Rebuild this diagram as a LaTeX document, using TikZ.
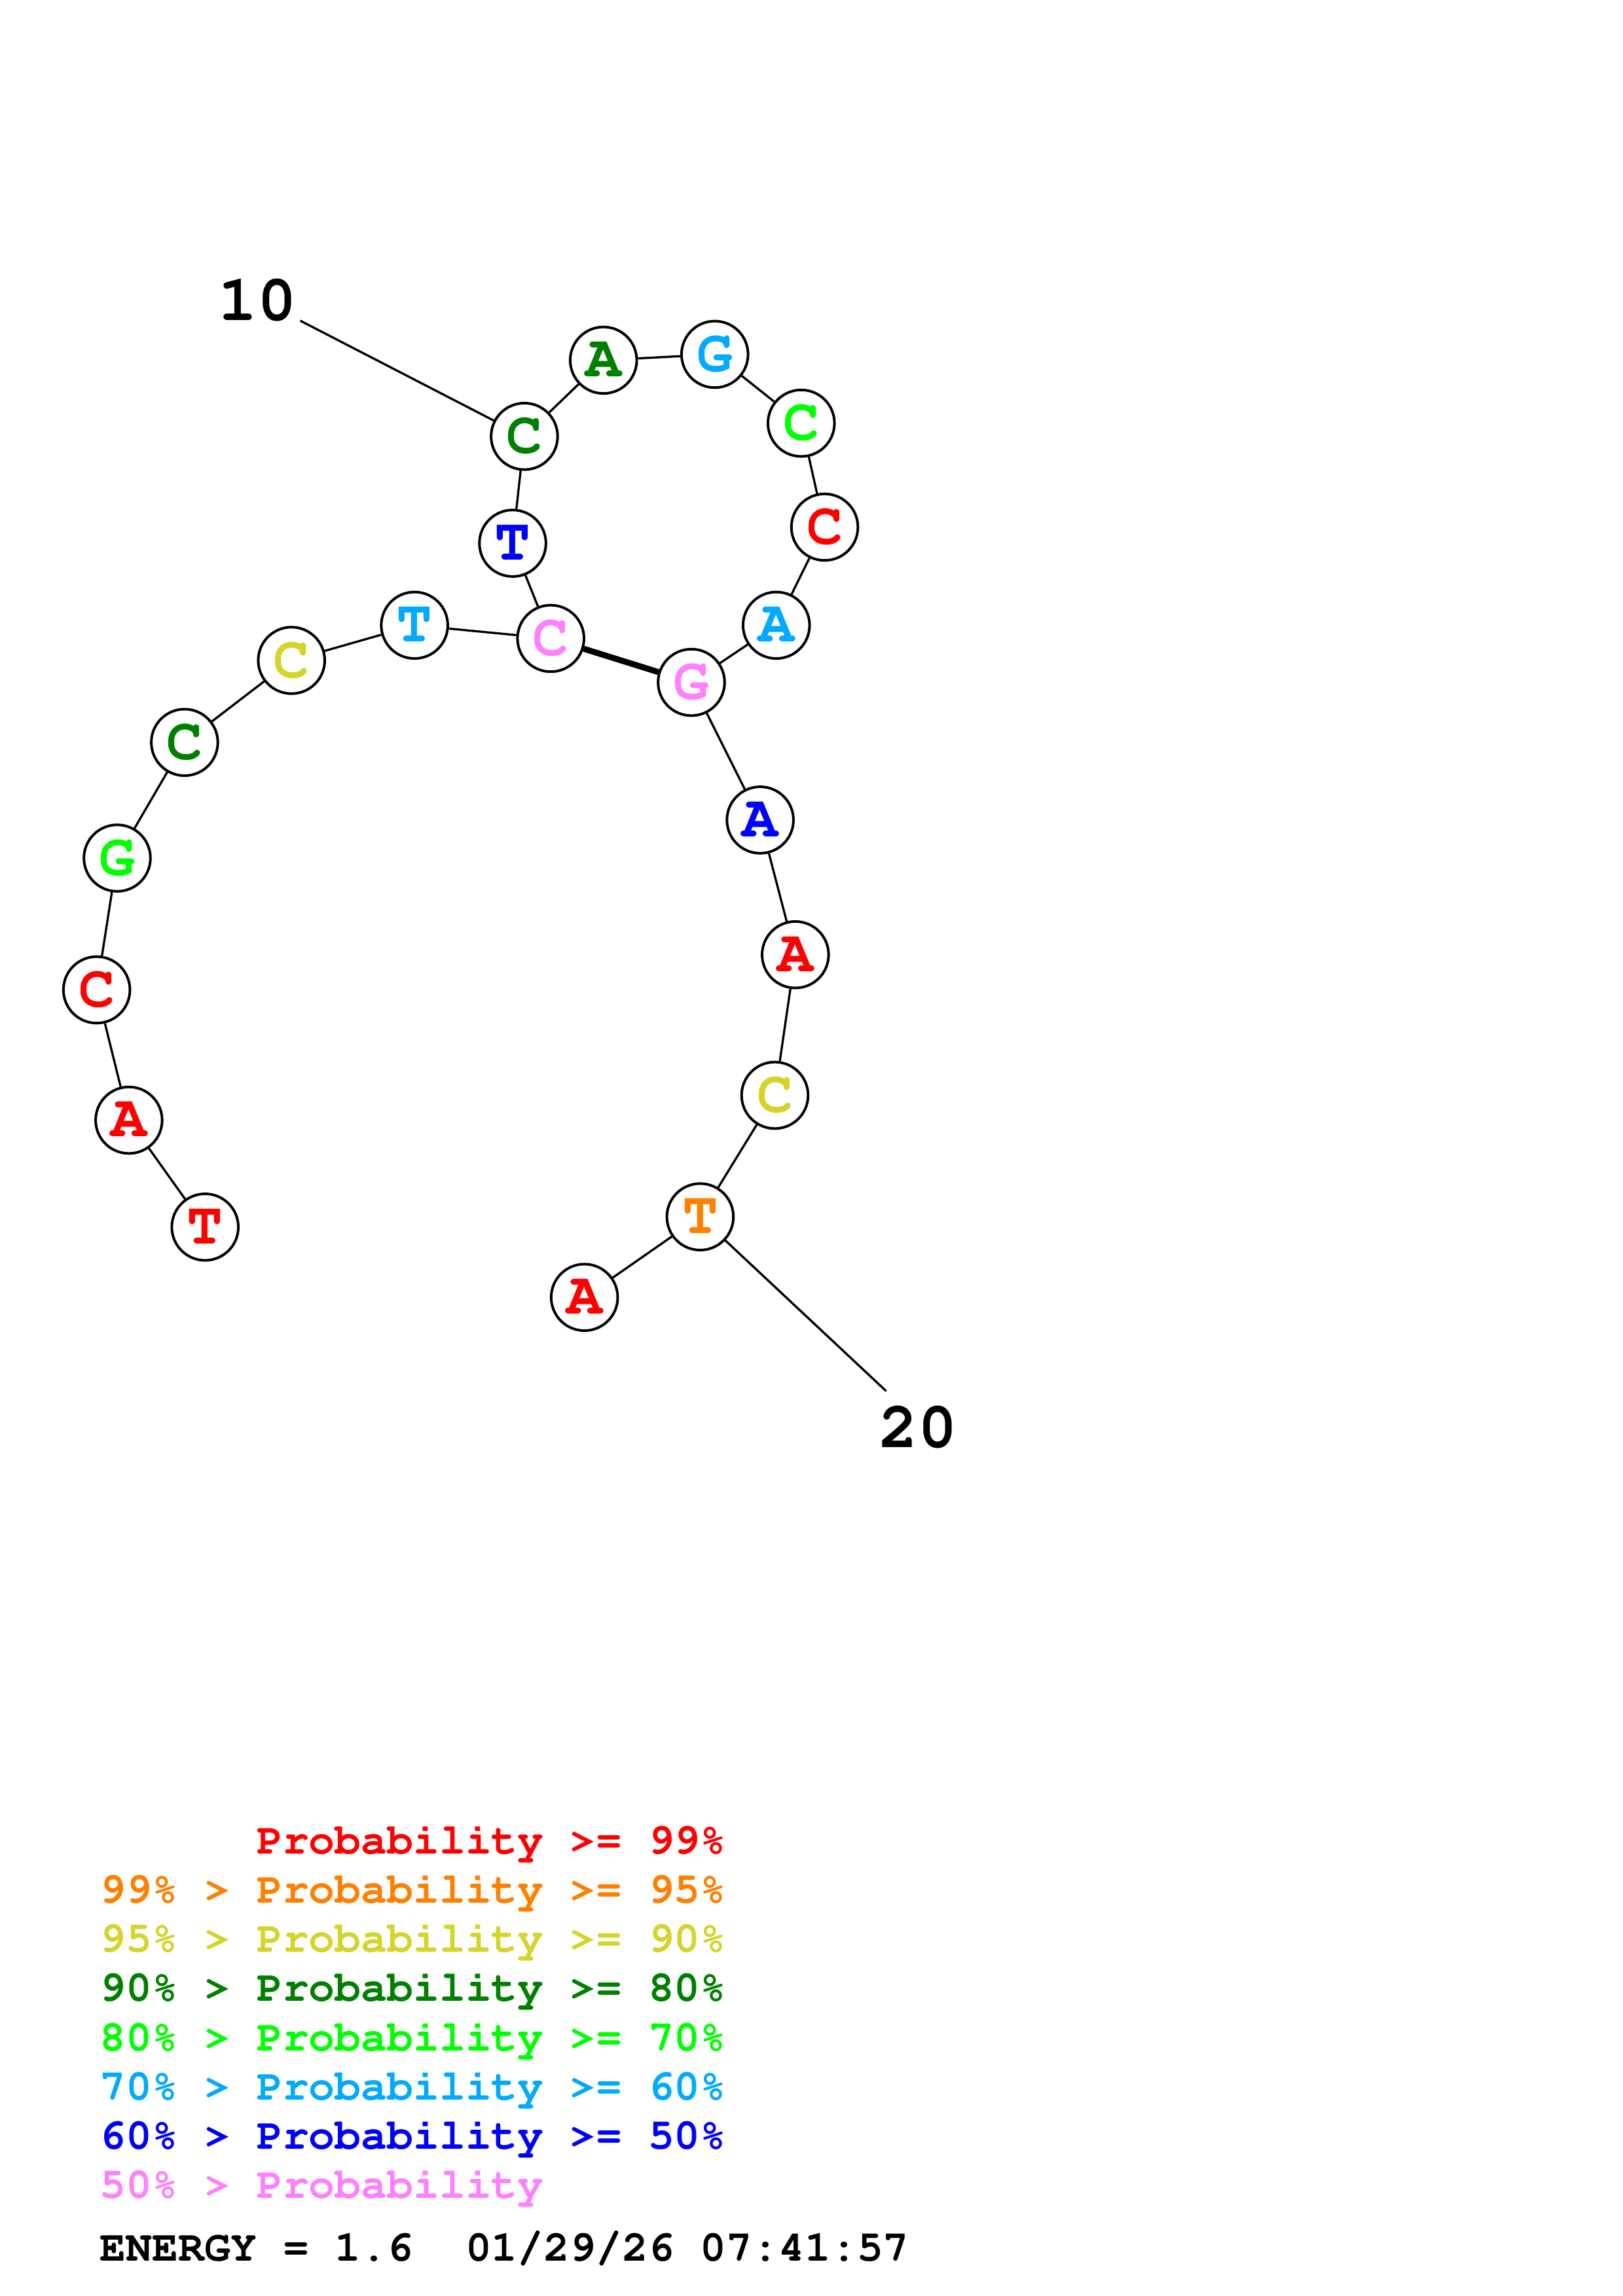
\documentclass[tikz,border=0pt]{standalone}
\usepackage[T1]{fontenc}
\usepackage{courier}
\renewcommand{\familydefault}{\ttdefault}
\usetikzlibrary{positioning}
\definecolor{pred}{RGB}{255,0,0}
\definecolor{porange}{RGB}{255,128,0}
\definecolor{pyellow}{RGB}{212,212,42}
\definecolor{pdkgreen}{RGB}{0,128,0}
\definecolor{plime}{RGB}{0,255,0}
\definecolor{psky}{RGB}{0,170,255}
\definecolor{pblue}{RGB}{0,0,255}
\definecolor{ppink}{RGB}{255,128,255}
\tikzstyle{base} = [circle, draw=black, fill=white, line width=0.95pt, minimum size=0.86cm, inner sep=0pt, font=\fontsize{22}{22}\selectfont\bfseries]
\tikzstyle{bond} = [draw=black, line width=0.8pt]
\tikzstyle{pair} = [draw=black, line width=2.2pt]
\tikzstyle{tick} = [font=\fontsize{24}{24}\selectfont\bfseries, inner sep=0pt]
\tikzstyle{legend} = [anchor=base west, inner sep=0pt, font=\fontsize{16}{18}\selectfont\bfseries]

\begin{document}
\begin{tikzpicture}[x=0.018941cm, y=-0.018941cm]
  \useasboundingbox (0,0) rectangle (1108,1568);
  % bases, 5' to 3'
  \node (n1)  [base, text=pred]     at (140, 838) {T};
  \node (n2)  [base, text=pred]     at (88, 765)  {A};
  \node (n3)  [base, text=pred]     at (66, 676)  {C};
  \node (n4)  [base, text=plime]    at (80, 586)  {G};
  \node (n5)  [base, text=pdkgreen] at (126, 507) {C};
  \node (n6)  [base, text=pyellow]  at (199, 451) {C};
  \node (n7)  [base, text=psky]     at (283, 427) {T};
  \node (n8)  [base, text=ppink]    at (376, 436) {C};
  \node (n9)  [base, text=pblue]    at (350, 371) {T};
  \node (n10) [base, text=pdkgreen] at (358, 298) {C};
  \node (n11) [base, text=pdkgreen] at (412, 246) {A};
  \node (n12) [base, text=psky]     at (488, 242) {G};
  \node (n13) [base, text=plime]    at (547, 289) {C};
  \node (n14) [base, text=pred]     at (563, 360) {C};
  \node (n15) [base, text=psky]     at (530, 427) {A};
  \node (n16) [base, text=ppink]    at (472, 466) {G};
  \node (n17) [base, text=pblue]    at (519, 560) {A};
  \node (n18) [base, text=pred]     at (543, 652) {A};
  \node (n19) [base, text=pyellow]  at (529, 748) {C};
  \node (n20) [base, text=porange]  at (478, 831) {T};
  \node (n21) [base, text=pred]     at (399, 886) {A};

  % backbone
  \path [bond] (n1) edge (n2) (n2) edge (n3) (n3) edge (n4) (n4) edge (n5)
               (n5) edge (n6) (n6) edge (n7) (n7) edge (n8) (n8) edge (n9)
               (n9) edge (n10) (n10) edge (n11) (n11) edge (n12) (n12) edge (n13)
               (n13) edge (n14) (n14) edge (n15) (n15) edge (n16) (n16) edge (n17)
               (n17) edge (n18) (n18) edge (n19) (n19) edge (n20) (n20) edge (n21);
  % base pair
  \path [pair] (n8) edge (n16);

  % numbering
  \node (t10) [tick] at (176, 205) {10};
  \coordinate (t10e) at (205, 219);
  \path [bond] (t10e) edge (n10);
  \node (t20) [tick] at (627, 975) {20};
  \coordinate (t20e) at (605, 950);
  \path [bond] (n20) edge (t20e);

  % legend
  \node (l1) [legend, text=pred]     at (68, 1266) {\hphantom{99\% > }Probability >= 99\%};
  \node (l2) [legend, text=porange]  at (68, 1299.6) {99\% > Probability >= 95\%};
  \node (l3) [legend, text=pyellow]  at (68, 1333.2) {95\% > Probability >= 90\%};
  \node (l4) [legend, text=pdkgreen] at (68, 1366.8) {90\% > Probability >= 80\%};
  \node (l5) [legend, text=plime]    at (68, 1400.4) {80\% > Probability >= 70\%};
  \node (l6) [legend, text=psky]     at (68, 1434.0) {70\% > Probability >= 60\%};
  \node (l7) [legend, text=pblue]    at (68, 1467.6) {60\% > Probability >= 50\%};
  \node (l8) [legend, text=ppink]    at (68, 1501.2) {50\% > Probability};
  \node (energy) [legend, text=black] at (68, 1544) {ENERGY = 1.6\ \ 01/29/26 07:41:57};
\end{tikzpicture}
\end{document}
